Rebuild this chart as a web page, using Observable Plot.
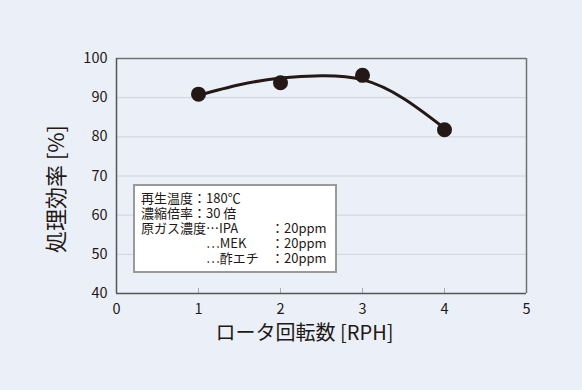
<!DOCTYPE html>
<html><head><meta charset="utf-8">
<script src="https://cdn.jsdelivr.net/npm/d3@7"></script>
<script src="https://cdn.jsdelivr.net/npm/@observablehq/plot@0.6"></script>
<style>
html,body{margin:0;padding:0;background:#EBEFF8;}
#wrap{position:relative;width:582px;height:390px;font-family:"Noto Sans CJK JP","Noto Sans",sans-serif;color:#231815;}
#box{position:absolute;left:133px;top:184px;width:200px;height:85px;background:#fff;border:2px solid #9a9a9a;box-sizing:content-box;}
#box pre{position:absolute;left:6px;top:4px;margin:0;font-family:inherit;font-size:13px;line-height:15px;white-space:pre;tab-size:65px;-moz-tab-size:65px;}
</style></head><body>
<div id="wrap"></div>
<script>
const rph = [1, 2, 3, 4];
const efficiency = [90.9, 93.8, 95.7, 81.8];
const curveX = [1, 1.5, 2, 2.5, 3, 3.5, 4];
const curveY = [90.6, 93.3, 95.0, 95.6, 94.6, 89.8, 82.2];
const yTicks = [40, 50, 60, 70, 80, 90, 100];
const xTicks = [0, 1, 2, 3, 4, 5];
const gridY = [50, 60, 70, 80, 90];
const innerTicks = [1, 2, 3, 4];
const legendLines = [
  "再生温度：180℃",
  "濃縮倍率：30 倍",
  "原ガス濃度⋯IPA\t：20ppm",
  "\t⋯MEK\t：20ppm",
  "\t⋯酢エチ\t：20ppm"
];

const points = rph.map((x, i) => ({x, y: efficiency[i]}));
const curve = curveX.map((x, i) => ({x, y: curveY[i]}));
const ink = "#231815";

const chart = Plot.plot({
  width: 582, height: 390,
  marginLeft: 116, marginRight: 56, marginTop: 58, marginBottom: 97,
  style: {background: "transparent", fontFamily: '"Noto Sans CJK JP","Noto Sans",sans-serif', color: ink},
  x: {domain: [0, 5]},
  y: {domain: [40, 100]},
  marks: [
    Plot.ruleY(gridY, {stroke: "#cfd2d8", strokeWidth: 1}),
    Plot.ruleY([100], {stroke: "#707070", strokeWidth: 1.5}),
    Plot.ruleX([5], {stroke: "#707070", strokeWidth: 1.5}),
    Plot.ruleX(innerTicks, {y1: 40, y2: 41.3, stroke: "#aaaaaa", strokeWidth: 1}),
    Plot.ruleY([40], {stroke: "#555", strokeWidth: 1.5}),
    Plot.ruleX([0], {stroke: "#555", strokeWidth: 1.5}),
    Plot.axisY({ticks: yTicks, tickSize: 0, tickPadding: 9, fontSize: 14.5, label: null}),
    Plot.axisX({ticks: xTicks, tickSize: 0, tickPadding: 10, fontSize: 14.5, tickFormat: d3.format("d"), label: null}),
    Plot.line(curve, {x: "x", y: "y", curve: "natural", stroke: ink, strokeWidth: 3}),
    Plot.dot(points, {x: "x", y: "y", r: 7.5, fill: ink}),
    Plot.text(["処理効率 [%]"], {frameAnchor: "left", textAnchor: "middle", dx: -60, dy: 13, rotate: -90, fontSize: 22, fill: ink}),
    Plot.text(["ロータ回転数 [RPH]"], {frameAnchor: "bottom", dx: -17, dy: 46, fontSize: 20, fill: ink})
  ]
});
const wrap = document.getElementById("wrap");
wrap.appendChild(chart);

const box = document.createElement("div");
box.id = "box";
const pre = document.createElement("pre");
pre.textContent = legendLines.join("\n");
box.appendChild(pre);
wrap.appendChild(box);
</script></body></html>
